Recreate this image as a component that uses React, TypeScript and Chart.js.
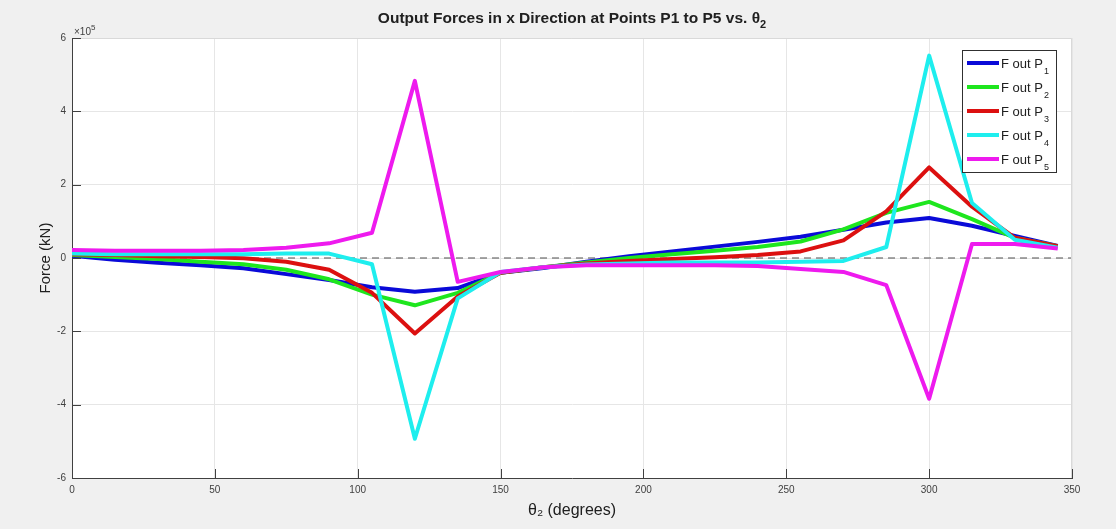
import React, { useEffect, useRef } from "react";
import { Chart, registerables } from "chart.js";

Chart.register(...registerables);

// theta_2 in degrees
const theta = [0, 15, 30, 45, 60, 75, 90, 105, 120, 135, 150, 165, 180, 195, 210, 225, 240, 255, 270, 285, 300, 315, 330, 345];
// forces in units of 1e5 kN
const fP1 = [0.06, -0.05, -0.13, -0.2, -0.28, -0.44, -0.6, -0.8, -0.92, -0.82, -0.4, -0.27, -0.1, 0.05, 0.18, 0.31, 0.44, 0.58, 0.77, 0.97, 1.09, 0.88, 0.6, 0.33];
const fP2 = [0.08, 0.03, -0.03, -0.1, -0.17, -0.32, -0.58, -1.0, -1.29, -0.95, -0.4, -0.25, -0.12, 0.0, 0.1, 0.2, 0.3, 0.45, 0.78, 1.23, 1.53, 1.06, 0.55, 0.32];
const fP3 = [0.1, 0.08, 0.05, 0.03, -0.01, -0.1, -0.32, -0.95, -2.06, -1.05, -0.4, -0.25, -0.15, -0.08, -0.03, 0.02, 0.08, 0.18, 0.48, 1.27, 2.47, 1.4, 0.55, 0.32];
const fP4 = [0.12, 0.1, 0.1, 0.1, 0.1, 0.12, 0.12, -0.17, -4.93, -1.1, -0.38, -0.25, -0.18, -0.15, -0.12, -0.12, -0.12, -0.1, -0.08, 0.3, 5.52, 1.5, 0.5, 0.28];
const fP5 = [0.22, 0.2, 0.2, 0.2, 0.22, 0.28, 0.4, 0.69, 4.83, -0.65, -0.38, -0.25, -0.2, -0.2, -0.2, -0.2, -0.22, -0.3, -0.38, -0.74, -3.84, 0.38, 0.38, 0.26];
const zeroLineX = [0, 350];
const zeroLineY = [0, 0];

const seriesNames = ["1", "2", "3", "4", "5"];
const seriesColors = ["#0a0ad8", "#1ee61e", "#dc1010", "#1eeeee", "#ee1aee"];
const seriesValues = [fP1, fP2, fP3, fP4, fP5];

const FONT = "'Liberation Sans', Arial, Helvetica, sans-serif";

const decorPlugin = {
  id: "decor",
  beforeDraw(chart: any) {
    const { ctx, chartArea: a } = chart;
    ctx.save();
    ctx.fillStyle = "#f0f0f0";
    ctx.fillRect(0, 0, chart.width, chart.height);
    ctx.fillStyle = "#ffffff";
    ctx.fillRect(a.left, a.top, a.right - a.left, a.bottom - a.top);
    ctx.restore();
  },
  afterDraw(chart: any) {
    const { ctx, chartArea: a } = chart;
    ctx.save();
    // box
    ctx.strokeStyle = "#d9d9d9";
    ctx.lineWidth = 1;
    ctx.beginPath();
    ctx.moveTo(a.left, a.top + 0.5);
    ctx.lineTo(a.right - 0.5, a.top + 0.5);
    ctx.lineTo(a.right - 0.5, a.bottom);
    ctx.stroke();
    // tick marks inside
    ctx.strokeStyle = "#404040";
    const xs = chart.scales.x;
    const ys = chart.scales.y;
    for (let v = 0; v <= 350; v += 50) {
      const px = Math.round(xs.getPixelForValue(v)) + 0.5;
      ctx.beginPath();
      ctx.moveTo(px, a.bottom);
      ctx.lineTo(px, a.bottom - 9);
      ctx.stroke();
    }
    for (let v = -6; v <= 6; v += 2) {
      const py = Math.round(ys.getPixelForValue(v)) + 0.5;
      ctx.beginPath();
      ctx.moveTo(a.left, py);
      ctx.lineTo(a.left + 9, py);
      ctx.stroke();
    }
    // exponent label
    ctx.fillStyle = "#404040";
    ctx.textBaseline = "alphabetic";
    ctx.textAlign = "left";
    ctx.font = `10px ${FONT}`;
    ctx.fillText("\u00d710", a.left + 2, a.top - 3);
    const w10 = ctx.measureText("\u00d710").width;
    ctx.font = `8px ${FONT}`;
    ctx.fillText("5", a.left + 2 + w10, a.top - 8);

    // title
    ctx.fillStyle = "#202020";
    ctx.font = `bold 15.5px ${FONT}`;
    const t = "Output Forces in x Direction at Points P1 to P5 vs. \u03b8";
    const tw = ctx.measureText(t).width;
    ctx.font = `bold 11px ${FONT}`;
    const sw = ctx.measureText("2").width;
    const cx = (a.left + a.right) / 2;
    const tx = cx - (tw + sw) / 2;
    ctx.font = `bold 15.5px ${FONT}`;
    ctx.fillText(t, tx, 23);
    ctx.font = `bold 11px ${FONT}`;
    ctx.fillText("2", tx + tw, 28);

    // legend
    const lx = 962, ly = 50, lw = 94, lh = 122;
    ctx.fillStyle = "#ffffff";
    ctx.fillRect(lx, ly, lw, lh);
    ctx.strokeStyle = "#303030";
    ctx.lineWidth = 1;
    ctx.strokeRect(lx + 0.5, ly + 0.5, lw, lh);
    for (let i = 0; i < seriesNames.length; i++) {
      const y = ly + 13 + i * 24;
      ctx.strokeStyle = seriesColors[i];
      ctx.lineWidth = 4;
      ctx.beginPath();
      ctx.moveTo(lx + 5, y);
      ctx.lineTo(lx + 37, y);
      ctx.stroke();
      ctx.fillStyle = "#202020";
      ctx.font = `13px ${FONT}`;
      ctx.fillText("F out P", lx + 39, y + 5);
      const fw = ctx.measureText("F out P").width;
      ctx.font = `9px ${FONT}`;
      ctx.fillText(seriesNames[i], lx + 40 + fw, y + 11);
    }
    ctx.restore();
  },
};

export default function App() {
  const ref = useRef<HTMLCanvasElement>(null);
  useEffect(() => {
    if (!ref.current) return;
    const datasets: any[] = seriesValues.map((vals, i) => ({
      label: "F out P" + seriesNames[i],
      data: theta.map((t, j) => ({ x: t, y: vals[j] })),
      borderColor: seriesColors[i],
      backgroundColor: seriesColors[i],
      borderWidth: 4,
      borderJoinStyle: "round",
      borderCapStyle: "butt",
      pointRadius: 0,
      tension: 0,
      order: 5 - i,
    }));
    datasets.push({
      label: "zero",
      data: zeroLineX.map((x, j) => ({ x, y: zeroLineY[j] })),
      borderColor: "#505050",
      borderWidth: 1.2,
      borderDash: [7, 5],
      pointRadius: 0,
      order: 10,
    });
    const chart = new Chart(ref.current, {
      type: "line",
      data: { datasets },
      options: {
        animation: false,
        responsive: false,
        maintainAspectRatio: false,
        layout: { padding: { top: 38, right: 44, left: 0, bottom: 0 } },
        plugins: { legend: { display: false }, title: { display: false }, tooltip: { enabled: false } },
        scales: {
          x: {
            type: "linear",
            min: 0,
            max: 350,
            ticks: { stepSize: 50, color: "#404040", padding: 6, font: { family: FONT, size: 10 }, maxRotation: 0 },
            grid: { color: "#e6e6e6", drawTicks: false },
            border: { color: "#404040", width: 1 },
            title: { display: true, text: "\u03b8\u2082 (degrees)", color: "#202020", font: { family: FONT, size: 16 }, padding: { top: 0, bottom: 9 } },
            afterFit: (s: any) => { s.height = 51; },
          },
          y: {
            type: "linear",
            min: -6,
            max: 6,
            ticks: { stepSize: 2, color: "#404040", padding: 6, font: { family: FONT, size: 10 } },
            grid: { color: "#e6e6e6", drawTicks: false },
            border: { color: "#404040", width: 1 },
            title: { display: true, text: "Force (kN)", color: "#202020", font: { family: FONT, size: 15 }, padding: { top: 37, bottom: 0 } },
            afterFit: (s: any) => { s.width = 72; },
          },
        },
      },
      plugins: [decorPlugin],
    });
    return () => chart.destroy();
  }, []);
  return (
    <div style={{ position: "fixed", left: 0, top: 0, width: 1116, height: 529 }}>
      <canvas ref={ref} width={1116} height={529} style={{ width: 1116, height: 529, display: "block" }} />
    </div>
  );
}
